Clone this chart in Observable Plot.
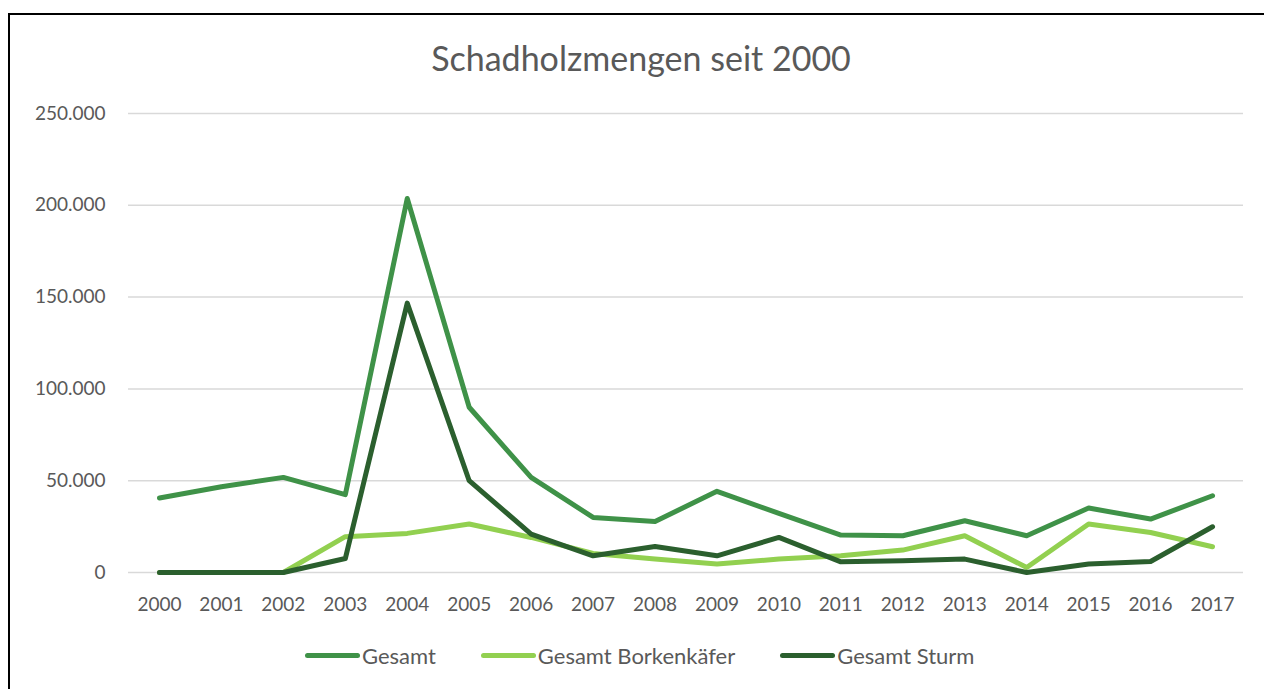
<!DOCTYPE html>
<html>
<head>
<meta charset="utf-8">
<script src="https://cdn.jsdelivr.net/npm/d3@7"></script>
<script src="https://cdn.jsdelivr.net/npm/@observablehq/plot@0.6"></script>
<style>
  html, body { margin: 0; padding: 0; background: #fff; }
  body { width: 1264px; height: 689px; position: relative; overflow: hidden; font-family: Lato, "Open Sans", sans-serif; }
  #chart { position: absolute; left: 0; top: 0; }
  #frame { position: absolute; left: 8px; top: 13px; width: 1256px; height: 676px;
           border-left: 2px solid #000; border-top: 2px solid #000; z-index: 5; pointer-events: none; }
  #title { position: absolute; left: 0; top: 37px; width: 1282px; text-align: center;
           font-size: 34px; color: #595959; z-index: 6; }
  #legend { position: absolute; left: 305px; top: 642px; display: flex; align-items: center;
            gap: 45px; font-size: 22px; color: #595959; z-index: 6; }
  .item { display: flex; align-items: center; }
  .sw { width: 55px; height: 5px; border-radius: 3px; margin-right: 2px; }
</style>
</head>
<body>
<div id="frame"></div>
<div id="title">Schadholzmengen seit 2000</div>
<div id="chart"></div>
<div id="legend"></div>
<script>
// ---- data ----
const years = ["2000","2001","2002","2003","2004","2005","2006","2007","2008","2009","2010","2011","2012","2013","2014","2015","2016","2017"];
const seriesNames = ["Gesamt", "Gesamt Borkenkäfer", "Gesamt Sturm"];
const seriesColors = ["#3f9248", "#92d050", "#2b5f2e"];
const gesamt       = [40600, 46700, 51800, 42400, 203700, 90000, 51800, 30000, 27800, 44200, 32200, 20400, 20000, 28200, 20000, 35100, 29100, 41800];
const borkenkaefer = [0, 0, 0, 19500, 21300, 26400, 19100, 10400, 7300, 4600, 7300, 9100, 12200, 20000, 2700, 26400, 21800, 14000];
const sturm        = [0, 0, 0, 7600, 146700, 50000, 20900, 9100, 14200, 9100, 19100, 5800, 6400, 7300, 0, 4600, 6000, 24900];
const yTicks = [0, 50000, 100000, 150000, 200000, 250000];

// ---- build table ----
const seriesValues = [gesamt, borkenkaefer, sturm];
const data = [];
seriesNames.forEach((s, i) => years.forEach((y, j) => data.push({series: s, year: y, value: seriesValues[i][j]})));

const de = d3.formatLocale({decimal: ",", thousands: ".", grouping: [3], currency: ["", "€"]});
const fmt = de.format(",");

const chart = Plot.plot({
  width: 1264,
  height: 689,
  marginLeft: 128,
  marginRight: 21,
  marginTop: 113,
  marginBottom: 117,
  style: {fontFamily: "Lato, 'Open Sans', sans-serif", fontSize: "19px", color: "#595959", background: "transparent", overflow: "visible"},
  x: {type: "point", domain: years, padding: 0.5, round: false},
  y: {domain: [0, 250000]},
  color: {domain: seriesNames, range: seriesColors},
  marks: [
    Plot.gridY(yTicks, {stroke: "#d9d9d9", strokeOpacity: 1, strokeWidth: 1.5}),
    Plot.axisY(yTicks, {tickSize: 0, tickPadding: 23, tickFormat: fmt, label: null, fill: "#595959"}),
    Plot.axisX({tickSize: 0, tickPadding: 25, label: null, fill: "#595959"}),
    Plot.line(data, {x: "year", y: "value", z: "series", stroke: "series", strokeWidth: 5,
                     strokeLinecap: "round", strokeLinejoin: "round"})
  ]
});
document.getElementById("chart").appendChild(chart);

// ---- legend ----
const legend = document.getElementById("legend");
seriesNames.forEach((s, i) => {
  const item = document.createElement("div");
  item.className = "item";
  const sw = document.createElement("div");
  sw.className = "sw";
  sw.style.background = seriesColors[i];
  const t = document.createElement("span");
  t.textContent = s;
  item.appendChild(sw);
  item.appendChild(t);
  legend.appendChild(item);
});
</script>
</body>
</html>
